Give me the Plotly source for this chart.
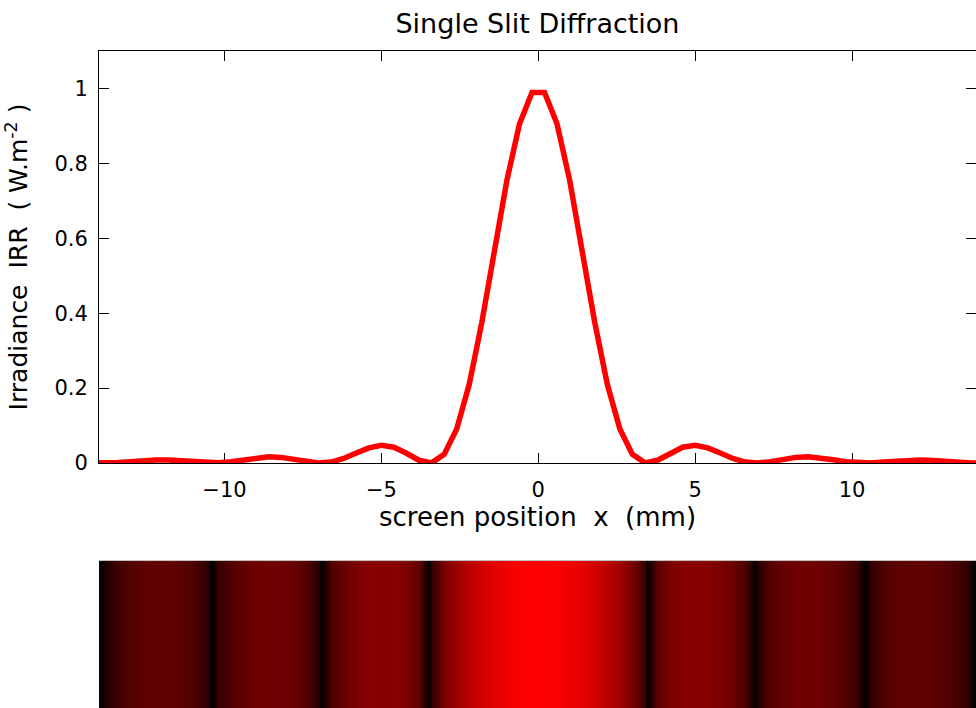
import numpy as np
import plotly.graph_objects as go

# Screen positions (mm) of the sampled irradiance profile
x_mm = [-14.2, -13.8, -13.4, -13.0, -12.6, -12.2, -11.8, -11.4, -11.0, -10.6,
        -10.2, -9.8, -9.4, -9.0, -8.6, -8.2, -7.8, -7.4, -7.0, -6.6,
        -6.2, -5.8, -5.4, -5.0, -4.6, -4.2, -3.8, -3.4, -3.0, -2.6,
        -2.2, -1.8, -1.4, -1.0, -0.6, -0.2, 0.2, 0.6, 1.0, 1.4,
        1.8, 2.2, 2.6, 3.0, 3.4, 3.8, 4.2, 4.6, 5.0, 5.4,
        5.8, 6.2, 6.6, 7.0, 7.4, 7.8, 8.2, 8.6, 9.0, 9.4,
        9.8, 10.2, 10.6, 11.0, 11.4, 11.8, 12.2, 12.6, 13.0, 13.4,
        13.8, 14.2]

# Normalised irradiance at each position (W.m^-2)
irr = [0.0005, 0.00003, 0.0012, 0.0037, 0.0065, 0.0082, 0.0079, 0.0057, 0.0026, 0.00032,
       0.00042, 0.0035, 0.0087, 0.0138, 0.0164, 0.0150, 0.0099, 0.0036, 0.00007, 0.0026,
       0.0122, 0.0267, 0.0405, 0.0471, 0.0420, 0.0261, 0.0073, 0.00042, 0.0231, 0.0906,
       0.210, 0.375, 0.567, 0.755, 0.905, 0.989, 0.989, 0.905, 0.755, 0.567,
       0.375, 0.210, 0.0906, 0.0231, 0.00042, 0.0073, 0.0261, 0.0420, 0.0471, 0.0405,
       0.0267, 0.0122, 0.0026, 0.00007, 0.0036, 0.0099, 0.0150, 0.0164, 0.0138, 0.0087,
       0.0035, 0.00042, 0.00032, 0.0026, 0.0057, 0.0079, 0.0082, 0.0065, 0.0037, 0.0012,
       0.00003, 0.0005]

# Positions of the dark fringes (zero irradiance)
dark_fringe_mm = [-13.88, -10.41, -6.94, -3.47, 3.47, 6.94, 10.41, 13.88]

x_ticks = [-10, -5, 0, 5, 10]
y_ticks = [0, 0.2, 0.4, 0.6, 0.8, 1]

# Fringe image: irradiance with a 0.2 gamma so faint orders stay visible
xs = np.array(x_mm + dark_fringe_mm, dtype=float)
zs = np.array(irr + [0.0] * len(dark_fringe_mm), dtype=float)
order = np.argsort(xs)
xs, zs = xs[order], zs[order]
bright = np.power(zs, 0.2)

FONT = "DejaVu Sans"
NB = "\u00a0"

fig = go.Figure()
fig.add_trace(go.Scatter(
    x=x_mm, y=irr, mode="lines",
    line=dict(color="#ff0000", width=5.5),
    xaxis="x", yaxis="y", showlegend=False,
))
fig.add_trace(go.Heatmap(
    x=xs, y=[0, 1], z=[bright, bright],
    zsmooth="best", zmin=0, zmax=1,
    colorscale=[[0, "#000000"], [1, "#ff0000"]],
    showscale=False, xaxis="x2", yaxis="y2", hoverinfo="skip",
))

x_range = [-14.0, 13.95]
axis_common = dict(
    showline=True, linecolor="black", linewidth=1, mirror="ticks",
    ticks="inside", ticklen=10, tickwidth=1, tickcolor="black",
    showgrid=False, zeroline=False, layer="below traces", automargin=False,
    tickfont=dict(family=FONT, size=21, color="black"),
)

fig.update_layout(
    width=976, height=708,
    margin=dict(l=99, r=0, t=51, b=0),
    paper_bgcolor="white", plot_bgcolor="white",
    title=dict(text="Single Slit Diffraction", x=0.5, xref="paper",
               y=1 - 24 / 708, yref="container", yanchor="middle",
               font=dict(family=FONT, size=27, color="black")),
    xaxis=dict(domain=[0, 1], anchor="y", range=x_range, tickvals=x_ticks,
               ticklabelstandoff=8,
               title=dict(text=f"screen position{NB}{NB}x{NB}{NB}(mm)",
                          font=dict(family=FONT, size=26, color="black"),
                          standoff=3),
               **axis_common),
    yaxis=dict(domain=[0.3729, 1], anchor="x", range=[0, 1.1], tickvals=y_ticks,
               ticklabelstandoff=6,
               title=dict(text=f"Irradiance{NB}{NB}IRR{NB}{NB}({NB}W.m<sup>-2</sup>{NB})",
                          font=dict(family=FONT, size=25, color="black"),
                          standoff=19),
               **axis_common),
    xaxis2=dict(domain=[0, 1], anchor="y2", range=x_range, side="top",
                showline=True, linecolor="#c0c0c0", linewidth=1, automargin=False,
                showticklabels=False, ticks="", showgrid=False, zeroline=False),
    yaxis2=dict(domain=[0, 0.2237], anchor="x2", range=[0, 1], visible=False),
)

fig.write_html("out.html")
